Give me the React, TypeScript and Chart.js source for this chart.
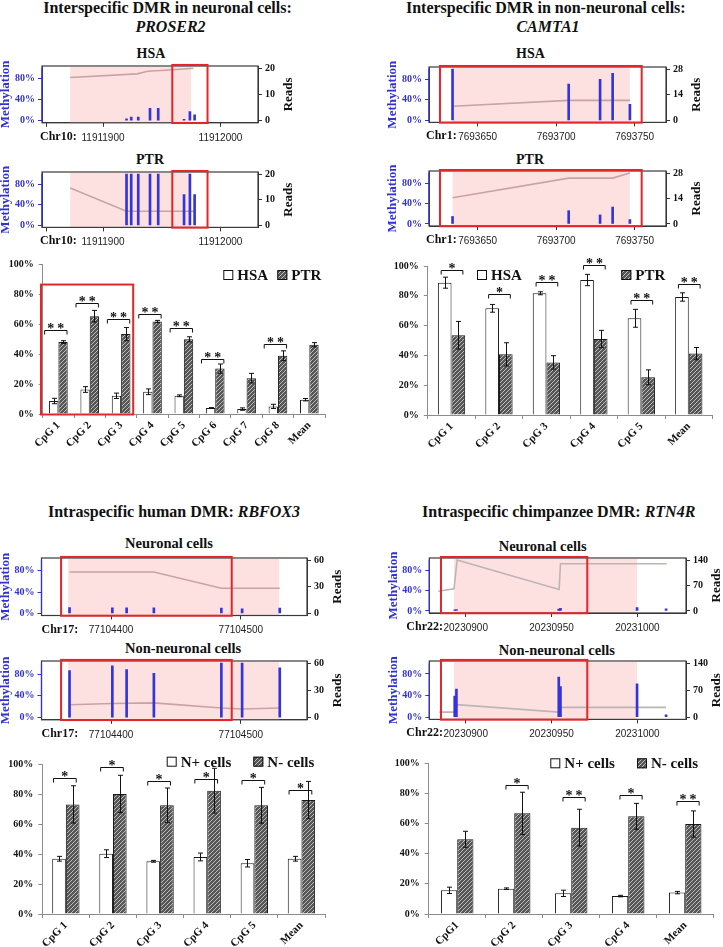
import React, { useEffect, useRef } from 'react';
import { Chart, registerables } from 'chart.js';
Chart.register(...registerables);

const SERIF = "'Liberation Serif', 'Times New Roman', 'DejaVu Serif', serif";
const SANS = "'Liberation Sans', Arial, sans-serif";
const BLUE = '#3232d2';
const READ_BLUE = '#3434dc';
const PINK = '#fde1e1';
const RED = '#e4262a';
const AXIS_GRAY = '#8c8c8c';

// ---------------- PROSER2 tracks (top left) ----------------
const proserXRange = [11911848, 11912032];
const proserTicks = [11911852, 11911900, 11912000];
const proserTickLabels = ['', '11911900', '11912000'];
const proserCpG = [11911920, 11911924, 11911930, 11911940, 11911947, 11911969, 11911974, 11911978];
const proserHsaReads = [0.7, 1.4, 1.4, 4.7, 4.7, 0.5, 3.5, 2.2];
const proserPtrReads = [20, 20, 20, 20, 20, 12, 20, 12];
const proserHsaLineX = [11911872, 11911929, 11911938, 11911960, 11911977];
const proserHsaLineY = [82, 89, 94, 97, 99.7];
const proserPtrLineX = [11911872, 11911920, 11911978];
const proserPtrLineY = [73, 27.5, 27.5];
const proserShade = [11911872, 11911975];
const proserRedBox = [11911959, 11911989];

// ---------------- CAMTA1 tracks (top right) ----------------
const camtaXRange = [7693619, 7693770];
const camtaTicks = [7693650, 7693700, 7693750];
const camtaTickLabels = ['7693650', '7693700', '7693750'];
const camtaCpG = [7693634, 7693708, 7693728, 7693736, 7693747];
const camtaHsaReads = [28, 19.8, 22.4, 25.7, 8.7];
const camtaPtrReads = [4.1, 7.3, 5, 9.3, 2.4];
const camtaHsaLineX = [7693634, 7693708, 7693747];
const camtaHsaLineY = [27.5, 39, 39];
const camtaPtrLineX = [7693634, 7693708, 7693736, 7693747];
const camtaPtrLineY = [51.6, 90, 90, 100];
const camtaShade = [7693634, 7693747];
const camtaRedBox = [7693626, 7693754.5];

// ---------------- RBFOX3 tracks (bottom left) ----------------
const rbfoxXRange = [77104346.4, 77104551];
const rbfoxTicks = [77104400, 77104500];
const rbfoxTickLabels = ['77104400', '77104500'];
const rbfoxCpG = [77104368, 77104401, 77104412, 77104433, 77104485, 77104501, 77104530];
const rbfoxNeuReads = [6.6, 6.3, 6.3, 6.3, 5.9, 5.1, 5.9];
const rbfoxNonReads = [51.9, 57, 53, 48.9, 60, 60, 54.8];
const rbfoxNeuLineX = [77104368, 77104433, 77104485, 77104530];
const rbfoxNeuLineY = [77.6, 77.6, 47.3, 47.3];
const rbfoxNonLineX = [77104368, 77104401, 77104433, 77104485, 77104501, 77104530];
const rbfoxNonLineY = [23.6, 26, 27, 17.6, 15.8, 17.6];
const rbfoxShade = [77104367, 77104529.5];
const rbfoxRedBox = [77104361.5, 77104493];

// ---------------- RTN4R tracks (bottom right) ----------------
const rtnXRange = [20230878.8, 20231028.3];
const rtnTicks = [20230900, 20230950, 20231000];
const rtnTickLabels = ['20230900', '20230950', '20231000'];
const rtnCpG = [20230893.6, 20230894.6, 20230954.2, 20230955.2, 20230999.8, 20231016.7];
const rtnNeuReads = [3, 4, 5, 7, 9, 6];
const rtnNonReads = [55, 72.6, 103.7, 79.5, 86.4, 6];
const rtnNeuLineX = [20230884, 20230893.2, 20230895, 20230954.4, 20230955.2, 20231017];
const rtnNeuLineY = [38.6, 43.4, 100, 42, 92.6, 92.6];
const rtnNonLineX = [20230884.6, 20230893.6, 20230894.9, 20230954.2, 20230955.3, 20231016.7];
const rtnNonLineY = [9.4, 9.4, 23.3, 9.4, 18.3, 18.3];
const rtnShade = [20230893.2, 20230999.8];
const rtnRedBox = [20230885.6, 20230970.8];

// ---------------- Bar charts ----------------
const proserCats = ['CpG 1', 'CpG 2', 'CpG 3', 'CpG 4', 'CpG 5', 'CpG 6', 'CpG 7', 'CpG 8', 'Mean'];
const proserHsa = [8.7, 16.4, 12.2, 14.9, 12.2, 4, 3.3, 5.1, 9.6];
const proserHsaErr = [1.8, 1.9, 1.8, 1.9, 0.6, 0.3, 0.8, 1.4, 0.8];
const proserPtr = [48.2, 65.5, 53.5, 62, 50, 30.4, 24, 39, 46.4];
const proserPtrErr = [0.9, 3.9, 4.4, 0.7, 1.7, 3.1, 3.2, 3.3, 1.4];
const proserSig = ['**', '**', '**', '**', '**', '**', '', '**', ''];
const proserSigY = [56, 74.2, 63.8, 67.1, 57.8, 36.7, 0, 47.1, 0];

const camtaCats = ['CpG 1', 'CpG 2', 'CpG 3', 'CpG 4', 'CpG 5', 'Mean'];
const camtaHsa = [88.8, 71.6, 81.7, 90.6, 64.9, 79.2];
const camtaHsaErr = [3.7, 2.6, 1, 3.8, 6, 2.8];
const camtaPtr = [53.5, 40.7, 35.3, 51, 25.3, 41.2];
const camtaPtrErr = [9.3, 7.8, 4.5, 5.8, 5, 4.1];
const camtaSig = ['*', '*', '**', '**', '**', '**'];
const camtaSigY = [97.3, 81.2, 89, 100.9, 77.2, 87.7];

const rbfoxCats = ['CpG 1', 'CpG 2', 'CpG 3', 'CpG 4', 'CpG 5', 'Mean'];
const rbfoxNplus = [37, 40.4, 35.3, 38.2, 34, 37];
const rbfoxNplusErr = [1.6, 2.6, 0.6, 2.6, 2.5, 1.6];
const rbfoxNminus = [73.4, 80.4, 72.8, 82.6, 72.8, 76.3];
const rbfoxNminusErr = [12.5, 12.5, 11.6, 15, 12, 12.5];
const rbfoxSig = ['*', '*', '*', '*', '*', '*'];
const rbfoxSigY = [90.8, 98.2, 89.3, 90.6, 89.7, 83.2];

const rtnCats = ['CpG1', 'CpG 2', 'CpG 3', 'CpG 4', 'Mean'];
const rtnNplus = [15.7, 16.8, 13.7, 11.9, 14.2];
const rtnNplusErr = [2.1, 0.5, 2.1, 0.5, 0.8];
const rtnNminus = [49.6, 66.8, 57.3, 64.8, 59.7];
const rtnNminusErr = [5.3, 14, 12.2, 8.6, 8.7];
const rtnSig = ['', '*', '**', '*', '**'];
const rtnSigY = [0, 85.6, 77.4, 79, 75.2];

type Area = { l: number; t: number; r: number; b: number };

interface TrackProps {
  area: Area;
  xRange: number[];
  ticks: number[];
  tickLabels: string[];
  chr: string;
  chrDx: number;
  cpg: number[];
  reads: number[];
  readsMax: number;
  lineX: number[];
  lineY: number[];
  lineColor: string;
  shade: number[];
  redBox: number[];
}

function Track(p: TrackProps) {
  const ref = useRef<HTMLCanvasElement>(null);
  const LW = 50, RW = 44, BH = 28, TP = 8;
  const cl = Math.floor(p.area.l) - LW;
  const ct = Math.floor(p.area.t) - TP;
  const cw = Math.ceil(p.area.r) + RW - cl;
  const ch = Math.ceil(p.area.b) + BH - ct;
  useEffect(() => {
    const leftW = p.area.l - cl;
    const topPad = p.area.t - ct;
    const rightW = cl + cw - p.area.r;
    const bottomH = ct + ch - p.area.b;
    const rm = p.readsMax;
    const deco = {
      id: 'trackDeco',
      beforeDatasetsDraw(chart: any) {
        const { ctx, chartArea: a, scales } = chart;
        const x0 = scales.x.getPixelForValue(p.shade[0]);
        const x1 = scales.x.getPixelForValue(p.shade[1]);
        ctx.save();
        ctx.fillStyle = PINK;
        ctx.fillRect(x0, a.top + 1, x1 - x0, a.bottom - a.top - 1);
        ctx.restore();
      },
      afterDatasetsDraw(chart: any) {
        const { ctx, chartArea: a, scales } = chart;
        const x = scales.x, y = scales.y;
        ctx.save();
        ctx.strokeStyle = '#3a3a3a';
        ctx.lineWidth = 1.2;
        ctx.strokeRect(a.left, a.top, a.right - a.left, a.bottom - a.top);
        ctx.strokeStyle = BLUE;
        ctx.beginPath();
        ctx.moveTo(a.left, y.getPixelForValue(0));
        ctx.lineTo(a.left, y.getPixelForValue(100));
        ctx.stroke();
        const rx0 = x.getPixelForValue(p.redBox[0]);
        const rx1 = x.getPixelForValue(p.redBox[1]);
        const ry0 = y.getPixelForValue(106);
        const ry1 = y.getPixelForValue(-4.5);
        ctx.strokeStyle = RED;
        ctx.lineWidth = 2;
        ctx.strokeRect(rx0, ry0, rx1 - rx0, ry1 - ry0);
        const cy = (a.top + a.bottom) / 2;
        ctx.font = `bold 13px ${SERIF}`;
        ctx.textAlign = 'center';
        ctx.textBaseline = 'middle';
        ctx.fillStyle = BLUE;
        ctx.save();
        ctx.translate(a.left - 36, cy);
        ctx.rotate(-Math.PI / 2);
        ctx.fillText('Methylation', 0, 0);
        ctx.restore();
        ctx.fillStyle = '#111';
        ctx.save();
        ctx.translate(a.right + 31, cy);
        ctx.rotate(-Math.PI / 2);
        ctx.fillText('Reads', 0, 0);
        ctx.restore();
        ctx.font = `bold 12px ${SERIF}`;
        ctx.textAlign = 'left';
        ctx.fillText(p.chr, a.left + p.chrDx, a.bottom + 14);
        ctx.restore();
      },
    };
    const chart = new Chart(ref.current as HTMLCanvasElement, {
      type: 'bar',
      data: {
        datasets: [
          {
            type: 'line',
            data: p.lineX.map((v, i) => ({ x: v, y: p.lineY[i] })),
            yAxisID: 'y',
            borderColor: p.lineColor,
            borderWidth: 1.6,
            pointRadius: 0,
            tension: 0,
            order: 2,
          } as any,
          {
            type: 'bar',
            data: p.cpg.map((v, i) => ({ x: v, y: p.reads[i] })),
            yAxisID: 'y2',
            backgroundColor: READ_BLUE,
            barThickness: 2,
            order: 1,
          } as any,
        ],
      },
      options: {
        responsive: false,
        animation: false,
        devicePixelRatio: 1,
        layout: { padding: { top: topPad, left: 0, right: 0, bottom: 0 } },
        plugins: { legend: { display: false }, tooltip: { enabled: false } },
        scales: {
          x: {
            type: 'linear',
            min: p.xRange[0],
            max: p.xRange[1],
            offset: false,
            afterBuildTicks: (s: any) => { s.ticks = p.ticks.map((v) => ({ value: v })); },
            afterFit: (s: any) => { s.height = bottomH; },
            grid: { display: true, drawOnChartArea: false, drawTicks: true, tickLength: 4, color: '#333', offset: false },
            border: { display: true, color: '#333' },
            ticks: {
              autoSkip: false, maxRotation: 0, minRotation: 0, padding: 5,
              color: '#222', font: { family: SANS, size: 10 },
              callback: (_v: any, i: number) => p.tickLabels[i],
            },
          },
          y: {
            type: 'linear',
            position: 'left',
            min: -4,
            max: 104,
            afterBuildTicks: (s: any) => { s.ticks = [0, 20, 40, 60, 80, 100].map((v) => ({ value: v })); },
            afterFit: (s: any) => { s.width = leftW; },
            grid: { display: true, drawOnChartArea: false, drawTicks: true, tickLength: 4, color: BLUE },
            border: { display: true, color: BLUE },
            ticks: {
              padding: 3, color: BLUE, font: { family: SERIF, weight: 'bold', size: 10 },
              callback: (v: any) => (Number(v) % 40 === 0 ? v + '%' : ''),
            },
          },
          y2: {
            type: 'linear',
            position: 'right',
            min: -0.04 * rm,
            max: 1.04 * rm,
            afterBuildTicks: (s: any) => { s.ticks = [0, rm / 4, rm / 2, (3 * rm) / 4, rm].map((v) => ({ value: v })); },
            afterFit: (s: any) => { s.width = rightW; },
            grid: { display: true, drawOnChartArea: false, drawTicks: true, tickLength: 4, color: '#333' },
            border: { display: true, color: '#333' },
            ticks: {
              padding: 3, color: '#111', font: { family: SERIF, weight: 'bold', size: 10 },
              callback: (v: any, i: number) => (i % 2 === 0 ? String(v) : ''),
            },
          },
        },
      } as any,
      plugins: [deco],
    });
    return () => chart.destroy();
  }, []);
  return (
    <canvas
      ref={ref}
      width={cw}
      height={ch}
      style={{ position: 'absolute', left: cl, top: ct, width: cw, height: ch }}
    />
  );
}

interface BarProps {
  area: Area;
  cats: string[];
  names: string[];
  a: number[];
  aErr: number[];
  b: number[];
  bErr: number[];
  sig: string[];
  sigY: number[];
  catPct: number;
  brL: number;
  brR: number;
  legend: number[][];
  redBox?: number[];
}

function makeHatch(ctx: CanvasRenderingContext2D): CanvasPattern {
  const c = document.createElement('canvas');
  c.width = 4;
  c.height = 4;
  const g = c.getContext('2d') as CanvasRenderingContext2D;
  const img = g.createImageData(4, 4);
  for (let yy = 0; yy < 4; yy++) {
    for (let xx = 0; xx < 4; xx++) {
      const light = (xx + yy) % 4 === 3;
      const v = light ? 0xbe : 0x56;
      const k = (yy * 4 + xx) * 4;
      img.data[k] = v; img.data[k + 1] = v; img.data[k + 2] = v; img.data[k + 3] = 255;
    }
  }
  g.putImageData(img, 0, 0);
  return ctx.createPattern(c, 'repeat') as CanvasPattern;
}

function BarPanel(p: BarProps) {
  const ref = useRef<HTMLCanvasElement>(null);
  const LW = 48, RP = 10, BH = 55, TP = 26;
  const cl = Math.floor(p.area.l) - LW;
  const ct = Math.floor(p.area.t) - TP;
  const cw = Math.ceil(p.area.r) + RP - cl;
  const ch = Math.ceil(p.area.b) + BH - ct;
  useEffect(() => {
    const canvas = ref.current as HTMLCanvasElement;
    const hatch = makeHatch(canvas.getContext('2d') as CanvasRenderingContext2D);
    const leftW = p.area.l - cl;
    const topPad = p.area.t - ct;
    const rightPad = cl + cw - p.area.r;
    const bottomH = ct + ch - p.area.b;
    const deco = {
      id: 'barDeco',
      afterDatasetsDraw(chart: any) {
        const { ctx, scales } = chart;
        const y = scales.y, x = scales.x;
        const m0 = chart.getDatasetMeta(0), m1 = chart.getDatasetMeta(1);
        ctx.save();
        ctx.strokeStyle = '#111';
        ctx.lineWidth = 1;
        const errs = [p.aErr, p.bErr];
        const vals = [p.a, p.b];
        [m0, m1].forEach((m: any, di: number) => {
          m.data.forEach((el: any, i: number) => {
            const v = vals[di][i], e = errs[di][i];
            const yt = y.getPixelForValue(v + e), yb = y.getPixelForValue(v - e);
            const xx = Math.round(el.x) + 0.5;
            ctx.beginPath();
            ctx.moveTo(xx, yt); ctx.lineTo(xx, yb);
            ctx.moveTo(xx - 2.5, yt); ctx.lineTo(xx + 2.5, yt);
            ctx.moveTo(xx - 2.5, yb); ctx.lineTo(xx + 2.5, yb);
            ctx.stroke();
          });
        });
        p.sig.forEach((s, i) => {
          if (!s) return;
          const ea = m0.data[i], eb = m1.data[i];
          const l = ea.x - ea.width / 2 + p.brL;
          const r = eb.x + eb.width / 2 + p.brR;
          const yy = Math.round(y.getPixelForValue(p.sigY[i])) + 0.5;
          ctx.beginPath();
          ctx.moveTo(l, yy + 4); ctx.lineTo(l, yy); ctx.lineTo(r, yy); ctx.lineTo(r, yy + 4);
          ctx.stroke();
          ctx.fillStyle = '#111';
          ctx.font = `bold 14px ${SERIF}`;
          ctx.textAlign = 'center';
          ctx.textBaseline = 'alphabetic';
          (ctx as any).letterSpacing = s.length > 1 ? '3px' : '0px';
          ctx.fillText(s, (l + r) / 2 + (s.length > 1 ? 1.5 : 0), yy + 2);
          (ctx as any).letterSpacing = '0px';
        });
        if (p.redBox) {
          const rx0 = x.getPixelForValue(p.redBox[0]);
          const rx1 = x.getPixelForValue(p.redBox[1]);
          const ry0 = y.getPixelForValue(p.redBox[2]);
          const ry1 = y.getPixelForValue(0) + 0.5;
          ctx.strokeStyle = RED;
          ctx.lineWidth = 2;
          ctx.strokeRect(rx0, ry0, rx1 - rx0, ry1 - ry0);
        }
        ctx.font = `bold 15px ${SERIF}`;
        ctx.textAlign = 'left';
        ctx.textBaseline = 'middle';
        p.legend.forEach((pos, i) => {
          const lx = pos[0] - cl, ly = pos[1] - ct;
          ctx.fillStyle = i === 0 ? '#ffffff' : hatch;
          ctx.fillRect(lx, ly - 5, 10, 10);
          ctx.strokeStyle = '#111';
          ctx.lineWidth = 1;
          ctx.strokeRect(lx + 0.5, ly - 4.5, 9, 9);
          ctx.fillStyle = '#111';
          ctx.fillText(p.names[i], lx + 14, ly + 1);
        });
        ctx.restore();
      },
    };
    const chart = new Chart(canvas, {
      type: 'bar',
      data: {
        labels: p.cats,
        datasets: [
          { label: p.names[0], data: p.a, backgroundColor: '#ffffff', borderColor: '#1a1a1a', borderWidth: 1, categoryPercentage: p.catPct, barPercentage: 1 },
          { label: p.names[1], data: p.b, backgroundColor: hatch, borderColor: '#1a1a1a', borderWidth: 1, categoryPercentage: p.catPct, barPercentage: 1 },
        ],
      },
      options: {
        responsive: false,
        animation: false,
        devicePixelRatio: 1,
        layout: { padding: { top: topPad, right: rightPad, left: 0, bottom: 0 } },
        plugins: { legend: { display: false }, tooltip: { enabled: false } },
        scales: {
          x: {
            afterFit: (s: any) => { s.height = bottomH; },
            grid: { display: true, drawOnChartArea: false, drawTicks: true, tickLength: 4, color: AXIS_GRAY, offset: true },
            border: { display: true, color: AXIS_GRAY },
            ticks: {
              minRotation: 45, maxRotation: 45, autoSkip: false, padding: 1,
              color: '#111', font: { family: SERIF, weight: 'bold', size: 11 },
            },
          },
          y: {
            min: 0,
            max: 100,
            afterFit: (s: any) => { s.width = leftW; },
            grid: { display: true, drawOnChartArea: false, drawTicks: true, tickLength: 4, color: AXIS_GRAY },
            border: { display: true, color: AXIS_GRAY },
            ticks: {
              stepSize: 20, padding: 5, color: '#111',
              font: { family: SERIF, weight: 'bold', size: 10 },
              callback: (v: any) => v + '%',
            },
          },
        },
      } as any,
      plugins: [deco],
    });
    return () => chart.destroy();
  }, []);
  return (
    <canvas
      ref={ref}
      width={cw}
      height={ch}
      style={{ position: 'absolute', left: cl, top: ct, width: cw, height: ch }}
    />
  );
}

function Label(props: { x: number; y: number; size: number; align?: 'center' | 'left'; children: React.ReactNode }) {
  const align = props.align || 'center';
  return (
    <div
      style={{
        position: 'absolute',
        left: props.x,
        top: props.y,
        transform: align === 'center' ? 'translate(-50%, -50%)' : 'translate(0, -50%)',
        fontFamily: SERIF,
        fontWeight: 'bold',
        fontSize: props.size,
        lineHeight: 1,
        whiteSpace: 'nowrap',
        color: '#111',
      }}
    >
      {props.children}
    </div>
  );
}

const LINE_PINK = '#c9a3a3';
const LINE_GRAY = '#bdb4b4';

export default function App() {
  return (
    <div
      style={{
        position: 'absolute',
        left: 0,
        top: 0,
        width: 723,
        height: 947,
        overflow: 'hidden',
        background: '#ffffff',
      }}
    >
      <Label x={167.5} y={7.5} size={16}>Interspecific DMR in neuronal cells:</Label>
      <Label x={170.5} y={26.5} size={16}><i>PROSER2</i></Label>
      <Label x={545.8} y={7.5} size={16}>Interspecific DMR in non-neuronal cells:</Label>
      <Label x={548} y={26.5} size={16}><i>CAMTA1</i></Label>
      <Label x={174} y={512} size={16}>Intraspecific human DMR: <i>RBFOX3</i></Label>
      <Label x={558.7} y={512} size={16}>Intraspecific chimpanzee DMR: <i>RTN4R</i></Label>

      <Label x={136.5} y={54.3} size={14} align="left">HSA</Label>
      <Label x={136} y={160.3} size={14} align="left">PTR</Label>
      <Label x={516} y={54.3} size={14} align="left">HSA</Label>
      <Label x={516} y={160.3} size={14} align="left">PTR</Label>
      <Label x={125} y={543.3} size={14.5} align="left">Neuronal cells</Label>
      <Label x={125} y={648.3} size={14.5} align="left">Non-neuronal cells</Label>
      <Label x={498.7} y={545.5} size={14.5} align="left">Neuronal cells</Label>
      <Label x={498.7} y={650} size={14.5} align="left">Non-neuronal cells</Label>

      <Track area={{ l: 42, t: 65.5, r: 258, b: 122.8 }} xRange={proserXRange} ticks={proserTicks} tickLabels={proserTickLabels}
        chr="Chr10:" chrDx={-2} cpg={proserCpG} reads={proserHsaReads} readsMax={20}
        lineX={proserHsaLineX} lineY={proserHsaLineY} lineColor={LINE_PINK} shade={proserShade} redBox={proserRedBox} />
      <Track area={{ l: 42, t: 171.2, r: 258, b: 227.4 }} xRange={proserXRange} ticks={proserTicks} tickLabels={proserTickLabels}
        chr="Chr10:" chrDx={-2} cpg={proserCpG} reads={proserPtrReads} readsMax={20}
        lineX={proserPtrLineX} lineY={proserPtrLineY} lineColor={LINE_PINK} shade={proserShade} redBox={proserRedBox} />
      <Track area={{ l: 429, t: 66.3, r: 666, b: 122.4 }} xRange={camtaXRange} ticks={camtaTicks} tickLabels={camtaTickLabels}
        chr="Chr1:" chrDx={-3} cpg={camtaCpG} reads={camtaHsaReads} readsMax={28}
        lineX={camtaHsaLineX} lineY={camtaHsaLineY} lineColor={LINE_PINK} shade={camtaShade} redBox={camtaRedBox} />
      <Track area={{ l: 429, t: 170.3, r: 666, b: 226 }} xRange={camtaXRange} ticks={camtaTicks} tickLabels={camtaTickLabels}
        chr="Chr1:" chrDx={-3} cpg={camtaCpG} reads={camtaPtrReads} readsMax={28}
        lineX={camtaPtrLineX} lineY={camtaPtrLineY} lineColor={LINE_PINK} shade={camtaShade} redBox={camtaRedBox} />
      <Track area={{ l: 41.5, t: 557, r: 307, b: 615.5 }} xRange={rbfoxXRange} ticks={rbfoxTicks} tickLabels={rbfoxTickLabels}
        chr="Chr17:" chrDx={0} cpg={rbfoxCpG} reads={rbfoxNeuReads} readsMax={60}
        lineX={rbfoxNeuLineX} lineY={rbfoxNeuLineY} lineColor={LINE_PINK} shade={rbfoxShade} redBox={rbfoxRedBox} />
      <Track area={{ l: 41.5, t: 660.5, r: 307, b: 719.8 }} xRange={rbfoxXRange} ticks={rbfoxTicks} tickLabels={rbfoxTickLabels}
        chr="Chr17:" chrDx={0} cpg={rbfoxCpG} reads={rbfoxNonReads} readsMax={60}
        lineX={rbfoxNonLineX} lineY={rbfoxNonLineY} lineColor={LINE_PINK} shade={rbfoxShade} redBox={rbfoxRedBox} />
      <Track area={{ l: 429.3, t: 557, r: 686, b: 613 }} xRange={rtnXRange} ticks={rtnTicks} tickLabels={rtnTickLabels}
        chr="Chr22:" chrDx={-23} cpg={rtnCpG} reads={rtnNeuReads} readsMax={140}
        lineX={rtnNeuLineX} lineY={rtnNeuLineY} lineColor={LINE_GRAY} shade={rtnShade} redBox={rtnRedBox} />
      <Track area={{ l: 429.3, t: 660.3, r: 686, b: 719.4 }} xRange={rtnXRange} ticks={rtnTicks} tickLabels={rtnTickLabels}
        chr="Chr22:" chrDx={-23} cpg={rtnCpG} reads={rtnNonReads} readsMax={140}
        lineX={rtnNonLineX} lineY={rtnNonLineY} lineColor={LINE_GRAY} shade={rtnShade} redBox={rtnRedBox} />

      <BarPanel area={{ l: 42.7, t: 264.7, r: 325, b: 414 }} cats={proserCats} names={['HSA', 'PTR']}
        a={proserHsa} aErr={proserHsaErr} b={proserPtr} bErr={proserPtrErr} sig={proserSig} sigY={proserSigY}
        catPct={0.595} brL={-4.4} brR={-0.7} legend={[[223.3, 275], [277.3, 275]]} redBox={[-0.554, 2.385, 86.7]} />
      <BarPanel area={{ l: 427.8, t: 266, r: 712.5, b: 415 }} cats={camtaCats} names={['HSA', 'PTR']}
        a={camtaHsa} aErr={camtaHsaErr} b={camtaPtr} bErr={camtaPtrErr} sig={camtaSig} sigY={camtaSigY}
        catPct={0.575} brL={3.3} brR={-2.3} legend={[[477, 275], [621.3, 275]]} />
      <BarPanel area={{ l: 42.3, t: 764.7, r: 325, b: 914 }} cats={rbfoxCats} names={['N+ cells', 'N- cells']}
        a={rbfoxNplus} aErr={rbfoxNplusErr} b={rbfoxNminus} bErr={rbfoxNminusErr} sig={rbfoxSig} sigY={rbfoxSigY}
        catPct={0.58} brL={1.3} brR={-3.3} legend={[[166.7, 761.7], [253.3, 761.7]]} />
      <BarPanel area={{ l: 428.7, t: 763.3, r: 713.7, b: 914 }} cats={rtnCats} names={['N+ cells', 'N- cells']}
        a={rtnNplus} aErr={rtnNplusErr} b={rtnNminus} bErr={rtnNminusErr} sig={rtnSig} sigY={rtnSigY}
        catPct={0.57} brL={8} brR={-2.3} legend={[[550.3, 763.3], [637, 763.3]]} />
    </div>
  );
}
